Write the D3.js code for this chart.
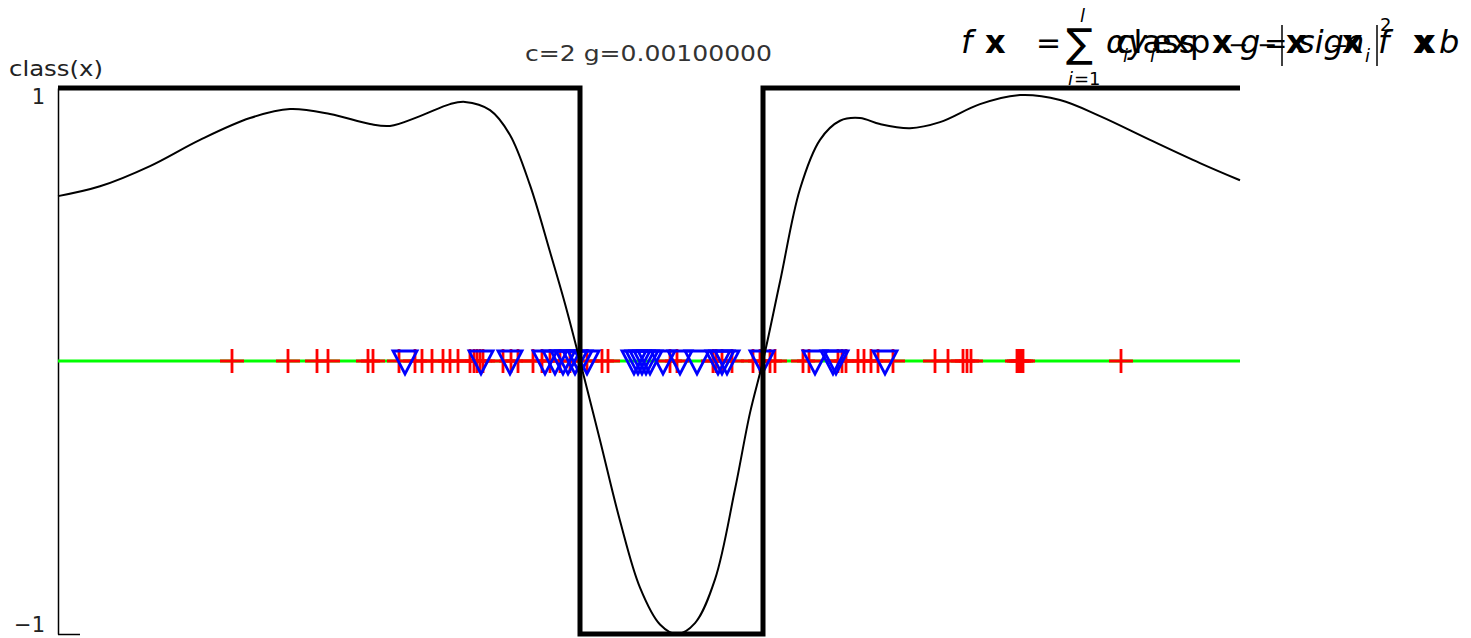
<!DOCTYPE html>
<html><head><meta charset="utf-8">
<script src="https://cdn.jsdelivr.net/npm/d3@7"></script>
<style>body{margin:0;background:#fff}svg{display:block}</style>
</head><body><svg id="c" width="1471" height="638"></svg>
<script>
// ---- data ----
const title = "c=2 g=0.00100000";
const yLabel = "class(x)";
const yTickValues = [1, -1];
const xDomain = [0, 1182];
const yDomain = [-1, 1];
// class(x) step function
const stepX = [0, 522, 705, 1182];
const stepY = [1, -1, 1, 1];
// decision function f(x)
const fX = [0, 42, 92, 142, 192, 232, 272, 312, 332, 362, 392, 407, 432, 452, 472, 492, 507, 522, 542, 562, 582, 602, 619, 637, 657, 677, 692, 705, 722, 742, 762, 782, 802, 822, 852, 882, 922, 962, 1002, 1042, 1092, 1142, 1182];
const fY = [0.604, 0.64, 0.714, 0.81, 0.89, 0.923, 0.905, 0.868, 0.861, 0.897, 0.941, 0.949, 0.919, 0.828, 0.644, 0.40, 0.21, 0.0, -0.29, -0.585, -0.83, -0.965, -1.0, -0.96, -0.80, -0.47, -0.19, 0.0, 0.29, 0.63, 0.81, 0.88, 0.89, 0.868, 0.853, 0.875, 0.941, 0.974, 0.956, 0.897, 0.81, 0.725, 0.662];
// training points (red +)
const pointX = [174, 230, 259, 270, 310, 315, 341, 357, 364, 374, 385, 392, 400, 412, 416, 419, 422, 425, 445, 453, 460, 475, 484, 492, 502, 512, 529, 544, 550, 612, 619, 655, 658, 664, 674, 695, 702, 712, 717, 745, 751, 780, 784, 788, 800, 806, 813, 820, 835, 877, 890, 905, 909, 913, 959, 961, 963, 965, 1063];
// support vectors (blue triangles)
const svX = [347, 423, 452, 487, 497, 505, 510, 517, 522, 529, 576, 580, 584, 588, 592, 605, 622, 639, 660, 664, 669, 704, 757, 775, 778, 827];

// ---- drawing ----
const svg = d3.select("#c");
svg.append("rect").attr("width", 1471).attr("height", 638).attr("fill", "#fff");
const x = d3.scaleLinear().domain(xDomain).range([58, 1240]);
const y = d3.scaleLinear().domain(yDomain).range([634, 88]);
const font = "'DejaVu Sans', sans-serif";

// axis
const ax = svg.append("g").attr("transform", "translate(58,0)")
  .call(d3.axisLeft(y).tickValues(yTickValues).tickFormat(d3.format("d"))
    .tickSizeInner(-22).tickSizeOuter(0).tickPadding(13));
ax.select(".domain").attr("stroke", "#000").attr("stroke-width", 1.5);
ax.selectAll(".tick line").attr("stroke", "#000").attr("stroke-width", 1.5);
ax.selectAll(".tick text").attr("font-family", font).attr("font-size", 21).attr("fill", "#222")
  .attr("dy", d => d === 1 ? 15 : -3);

svg.append("text").attr("x", 9).attr("y", 76).attr("font-family", font).attr("font-size", 21)
  .attr("fill", "#222").attr("textLength", 94).attr("lengthAdjust", "spacingAndGlyphs").text(yLabel);
svg.append("text").attr("x", 525).attr("y", 61).attr("font-family", font).attr("font-size", 21)
  .attr("fill", "#333").attr("textLength", 247).attr("lengthAdjust", "spacingAndGlyphs").text(title);

// baseline (green)
svg.append("line").attr("x1", x(xDomain[0])).attr("x2", x(xDomain[1]))
  .attr("y1", y(0)).attr("y2", y(0)).attr("stroke", "#00ff00").attr("stroke-width", 3);

// red crosses
const gp = svg.append("g").attr("stroke", "#ff0000").attr("stroke-width", 2.8);
gp.selectAll("path").data(pointX).join("path")
  .attr("d", d => `M${x(d) - 12},${y(0)}H${x(d) + 12}M${x(d)},${y(0) - 12}V${y(0) + 12}`);

// blue triangles
const gs = svg.append("g").attr("stroke", "#0000ff").attr("stroke-width", 2.8).attr("fill", "none")
  .attr("stroke-linejoin", "miter");
gs.selectAll("path").data(svX).join("path")
  .attr("d", d => `M${x(d) - 12},${y(0) - 10}H${x(d) + 12}L${x(d)},${y(0) + 13}Z`);

// step function
const stepLine = d3.line().x(d => x(d[0])).y(d => y(d[1])).curve(d3.curveStepAfter);
svg.append("path").datum(d3.zip(stepX, stepY)).attr("d", stepLine)
  .attr("fill", "none").attr("stroke", "#000").attr("stroke-width", 5);

// decision curve
const fLine = d3.line().x(d => x(d[0])).y(d => y(d[1])).curve(d3.curveCatmullRom);
svg.append("path").datum(d3.zip(fX, fY)).attr("d", fLine)
  .attr("fill", "none").attr("stroke", "#000").attr("stroke-width", 2);

// formula (overlapping rendering as in the reference), one text element
const fm = svg.append("g").attr("fill", "#000");
const ftext = fm.append("text").attr("font-family", font);
function t(str, px, py, size, style, weight) {
  ftext.append("tspan").attr("x", px).attr("y", py).attr("font-size", size)
    .attr("font-style", style || "normal").attr("font-weight", weight || "normal").text(str);
}
t("f", 961, 53, 32, "italic");
t("x", 985, 53, 32, null, "bold");
t("=", 1036, 53, 30);
t("\u2211", 1066, 57, 40);
t("l", 1080, 22, 18, "italic");
t("i", 1068, 85, 18, "italic");
t("=1", 1074, 85, 18);
t("\u03b1", 1106, 53, 32, "italic");
t("class", 1116, 53, 32);
t("y", 1128, 53, 32, "italic");
t("i", 1123, 62, 18, "italic");
t("i", 1150, 62, 18, "italic");
t("exp", 1152, 53, 32);
t("x", 1212, 53, 32, null, "bold");
t("\u2212", 1228, 53, 24);
t("g", 1240, 53, 32, "italic");
t("=", 1264, 53, 28);
t("\u2212", 1257, 53, 24);
t("x", 1286, 53, 32, null, "bold");
t("sign", 1298, 53, 32, "italic");
t("\u2212", 1330, 53, 22);
t("x", 1342, 53, 32, null, "bold");
t("i", 1365, 62, 18, "italic");
t("2", 1380, 31, 18);
t("f", 1378, 53, 32, "italic");
t("x", 1413, 53, 32, null, "bold");
t("x", 1415, 53, 32, null, "bold");
t("b", 1439, 53, 32, "italic");
fm.append("line").attr("x1", 1282).attr("x2", 1282).attr("y1", 25).attr("y2", 66).attr("stroke", "#000").attr("stroke-width", 1.5);
fm.append("line").attr("x1", 1377).attr("x2", 1377).attr("y1", 25).attr("y2", 66).attr("stroke", "#000").attr("stroke-width", 1.5);
</script></body></html>
